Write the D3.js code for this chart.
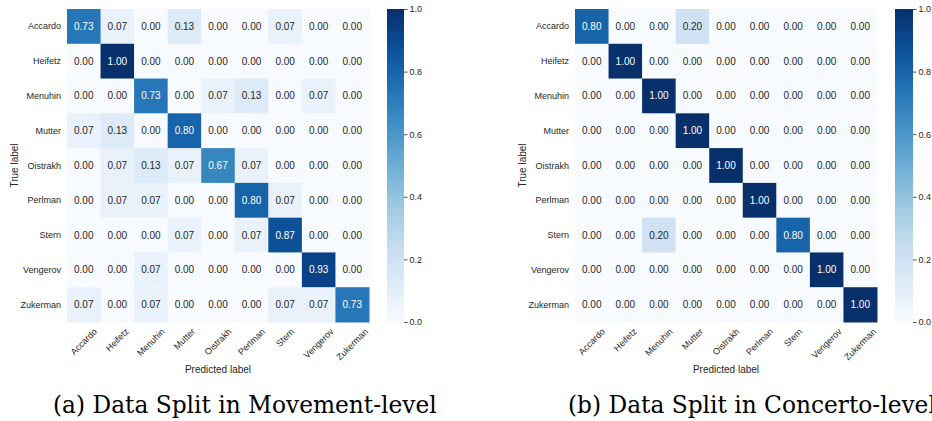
<!DOCTYPE html>
<html>
<head>
<meta charset="utf-8">
<script src="https://cdn.jsdelivr.net/npm/d3@7"></script>
<style>
  html, body { margin: 0; padding: 0; background: #fff; }
  svg { display: block; }
</style>
</head>
<body>
<svg id="chart" width="932" height="421"></svg>
<script>
const categories = ["Accardo", "Heifetz", "Menuhin", "Mutter", "Oistrakh", "Perlman", "Stern", "Vengerov", "Zukerman"];

const movementMatrix = [
  [0.73, 0.07, 0.00, 0.13, 0.00, 0.00, 0.07, 0.00, 0.00],
  [0.00, 1.00, 0.00, 0.00, 0.00, 0.00, 0.00, 0.00, 0.00],
  [0.00, 0.00, 0.73, 0.00, 0.07, 0.13, 0.00, 0.07, 0.00],
  [0.07, 0.13, 0.00, 0.80, 0.00, 0.00, 0.00, 0.00, 0.00],
  [0.00, 0.07, 0.13, 0.07, 0.67, 0.07, 0.00, 0.00, 0.00],
  [0.00, 0.07, 0.07, 0.00, 0.00, 0.80, 0.07, 0.00, 0.00],
  [0.00, 0.00, 0.00, 0.07, 0.00, 0.07, 0.87, 0.00, 0.00],
  [0.00, 0.00, 0.07, 0.00, 0.00, 0.00, 0.00, 0.93, 0.00],
  [0.07, 0.00, 0.07, 0.00, 0.00, 0.00, 0.07, 0.07, 0.73]
];

const concertoMatrix = [
  [0.80, 0.00, 0.00, 0.20, 0.00, 0.00, 0.00, 0.00, 0.00],
  [0.00, 1.00, 0.00, 0.00, 0.00, 0.00, 0.00, 0.00, 0.00],
  [0.00, 0.00, 1.00, 0.00, 0.00, 0.00, 0.00, 0.00, 0.00],
  [0.00, 0.00, 0.00, 1.00, 0.00, 0.00, 0.00, 0.00, 0.00],
  [0.00, 0.00, 0.00, 0.00, 1.00, 0.00, 0.00, 0.00, 0.00],
  [0.00, 0.00, 0.00, 0.00, 0.00, 1.00, 0.00, 0.00, 0.00],
  [0.00, 0.00, 0.20, 0.00, 0.00, 0.00, 0.80, 0.00, 0.00],
  [0.00, 0.00, 0.00, 0.00, 0.00, 0.00, 0.00, 1.00, 0.00],
  [0.00, 0.00, 0.00, 0.00, 0.00, 0.00, 0.00, 0.00, 1.00]
];

const colorbarTicks = [0.0, 0.2, 0.4, 0.6, 0.8, 1.0];
const captions = ["(a) Data Split in Movement-level", "(b) Data Split in Concerto-level"];
const xAxisTitle = "Predicted label";
const yAxisTitle = "True label";

const svg = d3.select("#chart");
const color = d3.scaleSequential(d3.interpolateBlues).domain([0, 1]);
const textDark = "#262626";
const sans = "'Liberation Sans', Arial, sans-serif";
const serif = "'DejaVu Serif', 'Liberation Serif', serif";

function relLum(c) {
  const rgb = d3.rgb(c);
  const f = v => { v /= 255; return v <= 0.03928 ? v / 12.92 : Math.pow((v + 0.055) / 1.055, 2.4); };
  return 0.2126 * f(rgb.r) + 0.7152 * f(rgb.g) + 0.0722 * f(rgb.b);
}

const panels = [
  { matrix: movementMatrix, left: 67, top: 9, width: 302, height: 313, cbX: 387, cbW: 17, caption: captions[0], captionX: 53, gid: "gradA" },
  { matrix: concertoMatrix, left: 575, top: 9, width: 302, height: 313, cbX: 895, cbW: 18, caption: captions[1], captionX: 568, gid: "gradB" }
];

// caption font sizing (fit caption (a) to its width in the reference)
const measure = svg.append("text").attr("font-family", serif).attr("font-size", 24).text(captions[0]);
const natural = measure.node().getComputedTextLength();
measure.remove();
const captionSize = 24 * 384 / natural;

const defs = svg.append("defs");

panels.forEach(p => {
  const g = svg.append("g");
  const x = d3.scaleBand().domain(categories).range([p.left, p.left + p.width]);
  const y = d3.scaleBand().domain(categories).range([p.top, p.top + p.height]);

  const cells = [];
  p.matrix.forEach((row, i) => row.forEach((v, j) => cells.push({ r: categories[i], c: categories[j], v })));

  g.selectAll("rect.cell").data(cells).enter().append("rect")
    .attr("class", "cell")
    .attr("x", d => x(d.c))
    .attr("y", d => y(d.r))
    .attr("width", x.bandwidth() + 0.5)
    .attr("height", y.bandwidth() + 0.5)
    .attr("fill", d => color(d.v));

  g.selectAll("text.val").data(cells).enter().append("text")
    .attr("class", "val")
    .attr("x", d => x(d.c) + x.bandwidth() / 2)
    .attr("y", d => y(d.r) + y.bandwidth() / 2)
    .attr("text-anchor", "middle")
    .attr("dominant-baseline", "central")
    .attr("font-family", sans)
    .attr("font-size", 10)
    .attr("fill", d => relLum(color(d.v)) > 0.408 ? textDark : "#ffffff")
    .text(d => d.v.toFixed(2));

  // y tick labels
  g.selectAll("text.ylab").data(categories).enter().append("text")
    .attr("class", "ylab")
    .attr("x", p.left - 6)
    .attr("y", d => y(d) + y.bandwidth() / 2)
    .attr("text-anchor", "end")
    .attr("dominant-baseline", "central")
    .attr("font-family", sans)
    .attr("font-size", 9)
    .attr("fill", textDark)
    .text(d => d);

  // x tick labels rotated 45, centred on tick
  const bottom = p.top + p.height;
  g.selectAll("text.xlab").data(categories).enter().append("text")
    .attr("class", "xlab")
    .attr("text-anchor", "end")
    .attr("dominant-baseline", "central")
    .attr("font-family", sans)
    .attr("font-size", 9)
    .attr("fill", textDark)
    .text(d => d)
    .each(function (d) {
      const L = this.getComputedTextLength();
      const ax = x(d) + x.bandwidth() / 2 + L * 0.3536;
      const ay = bottom + 8;
      d3.select(this).attr("transform", `translate(${ax},${ay}) rotate(-45)`);
    });

  // axis titles
  g.append("text")
    .attr("x", p.left + p.width / 2)
    .attr("y", 369)
    .attr("text-anchor", "middle")
    .attr("dominant-baseline", "central")
    .attr("font-family", sans)
    .attr("font-size", 10)
    .attr("fill", textDark)
    .text(xAxisTitle);

  g.append("text")
    .attr("transform", `translate(${p.left - 53},${p.top + p.height / 2}) rotate(-90)`)
    .attr("text-anchor", "middle")
    .attr("dominant-baseline", "central")
    .attr("font-family", sans)
    .attr("font-size", 10)
    .attr("fill", textDark)
    .text(yAxisTitle);

  // colorbar
  const grad = defs.append("linearGradient").attr("id", p.gid)
    .attr("x1", 0).attr("y1", 1).attr("x2", 0).attr("y2", 0);
  d3.range(0, 1.0001, 0.05).forEach(t => {
    grad.append("stop").attr("offset", t).attr("stop-color", color(t));
  });
  g.append("rect")
    .attr("x", p.cbX).attr("y", p.top)
    .attr("width", p.cbW).attr("height", p.height)
    .attr("fill", `url(#${p.gid})`);

  const cy = d3.scaleLinear().domain([0, 1]).range([p.top + p.height, p.top]);
  const axis = d3.axisRight(cy).tickValues(colorbarTicks).tickFormat(d3.format(".1f")).tickSize(3.5).tickPadding(2);
  const ag = g.append("g").attr("transform", `translate(${p.cbX + p.cbW},0)`).call(axis);
  ag.select(".domain").remove();
  ag.selectAll("line").attr("stroke", textDark).attr("stroke-width", 0.8);
  ag.selectAll("text").attr("font-family", sans).attr("font-size", 9).attr("fill", textDark);

  // caption
  svg.append("text")
    .attr("x", p.captionX)
    .attr("y", 413)
    .attr("font-family", serif)
    .attr("font-size", captionSize)
    .attr("fill", "#000")
    .text(p.caption);
});
</script>
</body>
</html>
